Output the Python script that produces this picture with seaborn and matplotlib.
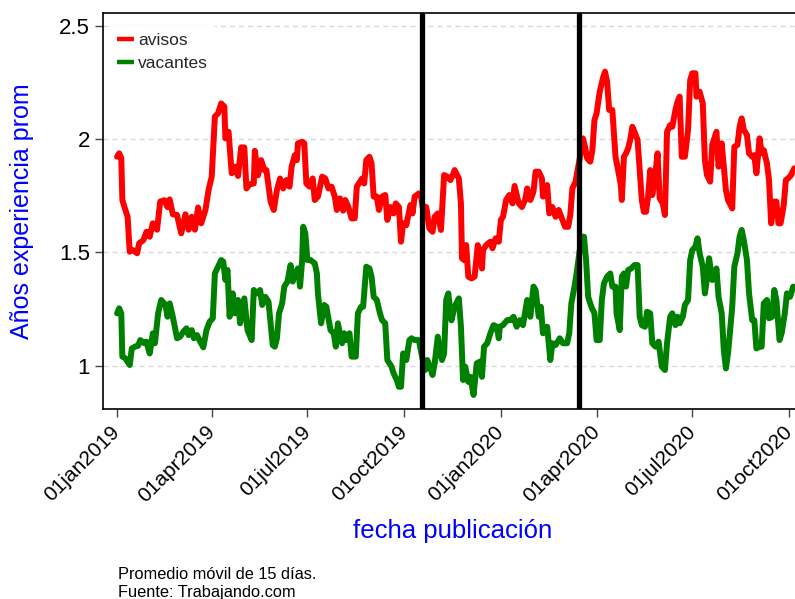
import matplotlib
matplotlib.use("Agg")
import matplotlib.pyplot as plt
import numpy as np
import pandas as pd
import seaborn as sns

# ---------------- data ----------------
base_date = "2019-01-01"

avisos_day = [0, 2, 4, 5, 7, 10, 12, 15, 19, 21, 25, 28, 31, 34, 38, 41, 45, 48, 50, 53,
              57, 61, 65, 68, 71, 74, 77, 80, 84, 87, 90, 93, 96, 99, 102, 103, 106, 109, 112, 115,
              118, 121, 123, 126, 130, 131, 134, 137, 140, 142, 146, 149, 152, 155, 158, 161, 164, 166, 169, 171,
              172, 176, 178, 180, 183, 186, 188, 191, 195, 198, 201, 204, 207, 209, 212, 215, 217, 220, 223, 226,
              228, 231, 233, 235, 237, 240, 242, 244, 247, 249, 252, 255, 257, 260, 263, 265, 268, 270, 272, 275,
              279, 281, 283, 287, 289, 291, 294, 297, 300, 302, 305, 308, 311, 314, 317, 320, 321, 325, 327, 328,
              330, 332, 334, 337, 340, 343, 345, 347, 348, 351, 355, 357, 360, 363, 365, 367, 370, 373, 376, 378,
              382, 385, 388, 390, 393, 396, 398, 401, 404, 405, 409, 411, 414, 417, 420, 423, 426, 429, 431, 433,
              436, 440, 443, 445, 447, 450, 452, 454, 456, 459, 462, 464, 466, 468, 471, 474, 477, 479, 480, 482,
              484, 486, 488, 490, 492, 495, 497, 499, 501, 503, 505, 507, 509, 512, 514, 516, 519, 521, 523, 526,
              528, 531, 533, 535, 537, 540, 543, 545, 547, 550, 551, 554, 557, 559, 561, 564, 566, 570, 572, 575,
              577, 579, 581, 585, 587, 590, 592, 594, 596, 599, 601, 604, 606, 608, 611, 613, 615, 618, 620, 622,
              625, 627, 629, 631, 634, 636, 638, 641, 644]
avisos_val = [1.922, 1.937, 1.915, 1.731, 1.700, 1.657, 1.503, 1.510, 1.496, 1.540, 1.554, 1.591, 1.569, 1.628, 1.600, 1.724, 1.730, 1.700, 1.734, 1.668,
              1.665, 1.584, 1.668, 1.600, 1.657, 1.600, 1.698, 1.628, 1.687, 1.775, 1.834, 2.099, 2.113, 2.157, 2.143, 2.003, 2.032, 1.849, 1.878, 1.837,
              1.963, 1.963, 1.782, 1.800, 1.804, 1.948, 1.840, 1.907, 1.863, 1.863, 1.724, 1.687, 1.775, 1.826, 1.782, 1.819, 1.790, 1.878, 1.929, 1.907,
              1.981, 1.988, 1.981, 1.804, 1.790, 1.826, 1.731, 1.746, 1.834, 1.826, 1.782, 1.790, 1.746, 1.687, 1.738, 1.684, 1.731, 1.700, 1.650, 1.650,
              1.790, 1.812, 1.826, 1.804, 1.907, 1.922, 1.893, 1.746, 1.746, 1.687, 1.746, 1.753, 1.643, 1.700, 1.672, 1.716, 1.700, 1.547, 1.628, 1.620,
              1.709, 1.672, 1.746, 1.760, 1.753, 1.687, 1.700, 1.606, 1.591, 1.657, 1.672, 1.599, 1.841, 1.834, 1.819, 1.849, 1.863, 1.826, 1.716, 1.474,
              1.466, 1.532, 1.393, 1.385, 1.393, 1.532, 1.496, 1.429, 1.510, 1.532, 1.547, 1.518, 1.562, 1.547, 1.643, 1.657, 1.731, 1.753, 1.716, 1.793,
              1.716, 1.700, 1.731, 1.782, 1.731, 1.768, 1.856, 1.856, 1.826, 1.746, 1.797, 1.672, 1.700, 1.657, 1.687, 1.650, 1.613, 1.613, 1.665, 1.782,
              1.812, 1.915, 2.003, 1.966, 1.915, 1.900, 1.951, 2.084, 2.113, 2.209, 2.268, 2.297, 2.253, 2.128, 2.128, 1.922, 1.849, 1.800, 1.731, 1.922,
              1.937, 1.959, 1.996, 2.054, 2.032, 1.996, 1.863, 1.731, 1.679, 1.679, 1.746, 1.863, 1.753, 1.849, 1.937, 1.738, 1.716, 1.665, 2.032, 2.062,
              2.054, 2.128, 2.165, 2.187, 1.922, 1.922, 2.040, 2.260, 2.290, 2.290, 2.187, 2.209, 2.157, 1.907, 1.841, 1.812, 1.974, 2.032, 1.878, 1.981,
              1.878, 1.775, 1.731, 1.694, 1.966, 1.974, 2.054, 2.091, 2.040, 2.018, 1.937, 1.922, 1.929, 1.849, 2.003, 1.937, 1.951, 1.893, 1.819, 1.628,
              1.724, 1.724, 1.628, 1.628, 1.709, 1.819, 1.826, 1.841, 1.871]

vacantes_day = [0, 2, 4, 5, 8, 12, 14, 17, 20, 22, 26, 28, 31, 34, 36, 39, 42, 46, 48, 50,
                53, 57, 60, 63, 66, 68, 71, 73, 76, 79, 82, 85, 88, 91, 93, 96, 99, 101, 103, 105,
                107, 110, 112, 115, 117, 121, 124, 128, 130, 133, 136, 138, 141, 144, 146, 148, 150, 152, 154, 157,
                159, 162, 165, 167, 169, 172, 174, 176, 177, 179, 181, 184, 188, 190, 191, 194, 197, 199, 203, 206,
                208, 210, 214, 216, 218, 221, 223, 227, 229, 232, 234, 237, 240, 242, 244, 247, 250, 252, 255, 257,
                261, 263, 266, 268, 270, 272, 275, 278, 280, 283, 287, 290, 293, 295, 298, 300, 302, 305, 307, 309,
                311, 313, 315, 318, 321, 325, 327, 329, 331, 334, 336, 339, 342, 345, 347, 349, 352, 355, 358, 361,
                363, 364, 367, 371, 374, 377, 380, 383, 386, 390, 393, 396, 398, 401, 403, 405, 409, 412, 414, 417,
                421, 424, 428, 430, 432, 435, 437, 440, 442, 444, 446, 448, 451, 454, 456, 459, 461, 463, 466, 469,
                471, 474, 475, 478, 480, 482, 484, 486, 489, 492, 495, 497, 499, 502, 504, 507, 509, 512, 515, 518,
                521, 523, 526, 528, 531, 533, 535, 538, 540, 543, 545, 547, 550, 552, 554, 557, 559, 561, 563, 566,
                568, 570, 572, 575, 577, 579, 581, 585, 587, 590, 592, 594, 596, 599, 601, 604, 606, 608, 611, 613,
                615, 618, 620, 623, 625, 627, 630, 632, 635, 637, 640, 643]
vacantes_val = [1.231, 1.253, 1.231, 1.040, 1.032, 1.003, 1.076, 1.084, 1.088, 1.113, 1.099, 1.106, 1.054, 1.143, 1.099, 1.231, 1.290, 1.268, 1.216, 1.275,
                1.216, 1.121, 1.128, 1.150, 1.165, 1.135, 1.157, 1.121, 1.135, 1.106, 1.081, 1.157, 1.194, 1.209, 1.407, 1.437, 1.466, 1.459, 1.378, 1.422,
                1.216, 1.319, 1.231, 1.290, 1.187, 1.297, 1.157, 1.113, 1.334, 1.319, 1.334, 1.268, 1.304, 1.282, 1.187, 1.091, 1.084, 1.120, 1.231, 1.275,
                1.349, 1.371, 1.444, 1.371, 1.407, 1.429, 1.349, 1.466, 1.613, 1.584, 1.466, 1.466, 1.451, 1.407, 1.319, 1.187, 1.268, 1.260, 1.157, 1.143,
                1.084, 1.187, 1.099, 1.143, 1.113, 1.143, 1.040, 1.040, 1.231, 1.260, 1.260, 1.437, 1.429, 1.393, 1.304, 1.290, 1.231, 1.201, 1.187, 1.025,
                0.996, 0.966, 0.937, 0.907, 0.907, 1.054, 1.025, 1.113, 1.121, 1.113, 1.113, 1.040, 0.981, 1.025, 0.988, 0.959, 1.010, 1.128, 1.062, 1.025,
                1.054, 1.290, 1.319, 1.200, 1.260, 1.297, 1.172, 0.937, 0.996, 0.929, 0.951, 0.871, 1.010, 1.018, 0.951, 1.084, 1.099, 1.143, 1.179, 1.172,
                1.121, 1.172, 1.179, 1.201, 1.201, 1.216, 1.172, 1.201, 1.179, 1.290, 1.216, 1.349, 1.334, 1.216, 1.260, 1.143, 1.172, 1.025, 1.099, 1.091,
                1.121, 1.099, 1.099, 1.143, 1.275, 1.349, 1.407, 1.510, 1.569, 1.569, 1.466, 1.304, 1.260, 1.231, 1.113, 1.113, 1.290, 1.363, 1.393, 1.407,
                1.349, 1.349, 1.231, 1.157, 1.393, 1.407, 1.349, 1.422, 1.429, 1.444, 1.444, 1.216, 1.179, 1.172, 1.238, 1.231, 1.099, 1.084, 1.106, 0.996,
                0.981, 1.099, 1.216, 1.231, 1.179, 1.216, 1.187, 1.216, 1.268, 1.290, 1.466, 1.510, 1.525, 1.562, 1.496, 1.437, 1.319, 1.385, 1.474, 1.378,
                1.393, 1.429, 1.304, 1.231, 1.069, 0.988, 1.054, 1.260, 1.437, 1.496, 1.569, 1.599, 1.554, 1.466, 1.319, 1.201, 1.201, 1.076, 1.084, 1.084,
                1.275, 1.290, 1.209, 1.216, 1.334, 1.290, 1.113, 1.143, 1.231, 1.319, 1.304, 1.349]

series_names = ["avisos", "vacantes"]
series_colors = ["#ff0000", "#008000"]
event_dates = ["2019-10-18", "2020-03-15"]
xtick_dates = ["2019-01-01", "2019-04-01", "2019-07-01", "2019-10-01",
               "2020-01-01", "2020-04-01", "2020-07-01", "2020-10-01"]
xtick_labels = ["01jan2019", "01apr2019", "01jul2019", "01oct2019",
                "01jan2020", "01apr2020", "01jul2020", "01oct2020"]
ytick_vals = [1, 1.5, 2, 2.5]
ytick_labels = ["1", "1.5", "2", "2.5"]

# ---------------- build frame ----------------
base = pd.Timestamp(base_date)
df = pd.concat([
    pd.DataFrame({"fecha": base + pd.to_timedelta(avisos_day, unit="D"),
                  "valor": avisos_val, "serie": series_names[0]}),
    pd.DataFrame({"fecha": base + pd.to_timedelta(vacantes_day, unit="D"),
                  "valor": vacantes_val, "serie": series_names[1]}),
], ignore_index=True)

# ---------------- style ----------------
sns.set_style("white")
plt.rcParams["font.family"] = ["Liberation Sans", "DejaVu Sans"]

W, H = 795, 599
fig = plt.figure(figsize=(W / 100, H / 100), dpi=100)
ax = fig.add_axes([103 / W, 1 - 409 / H, (W - 103) / W, (409 - 13) / H])

sns.lineplot(data=df, x="fecha", y="valor", hue="serie",
             palette=dict(zip(series_names, series_colors)),
             estimator=None, linewidth=4.3, ax=ax)
for ln in ax.lines:
    ln.set_solid_joinstyle("round")
    ln.set_solid_capstyle("round")

for d in event_dates:
    ax.axvline(pd.Timestamp(d), color="black", linewidth=3.8, zorder=6)

ax.set_xlim(base + pd.Timedelta(days=-13.4), base + pd.Timedelta(days=644.7))
ax.set_ylim(0.809, 2.556)

ax.set_yticks(ytick_vals)
ax.set_yticklabels(ytick_labels)
ax.set_xticks(pd.to_datetime(xtick_dates))
ax.set_xticklabels(xtick_labels, rotation=45, ha="right", va="center",
                   rotation_mode="anchor")

ax.yaxis.grid(True, color="#d9d9d9", linestyle=(0, (3.6, 2.9)), linewidth=1.0)
ax.xaxis.grid(False)
ax.set_axisbelow(True)

for side in ["left", "bottom", "top"]:
    ax.spines[side].set_color("black")
    ax.spines[side].set_linewidth(1.2)
ax.spines["right"].set_visible(False)

ax.tick_params(axis="both", direction="out", length=5.5, width=1.0,
               color="#444444", labelcolor="black")
ax.tick_params(axis="y", labelsize=16, pad=4, left=True)
ax.tick_params(axis="x", labelsize=15, pad=9, bottom=True)

ax.set_xlabel("")
ax.set_ylabel("")

handles, labels = ax.get_legend_handles_labels()
leg = ax.legend(handles, labels, loc="upper left", bbox_to_anchor=(0.0101, 0.967),
                borderaxespad=0, borderpad=0.4, frameon=True, fancybox=False,
                framealpha=1, edgecolor="none", facecolor="white", fontsize=12.5,
                handlelength=1.0, handletextpad=0.2, labelspacing=0.45)
for lh in leg.get_lines():
    lh.set_linewidth(3.2)
    lh.set_solid_capstyle("butt")
leg.set_zorder(10)

fig.text(22 / W, 1 - 211 / H, "Años experiencia prom", color="#0000ff",
         fontsize=18, rotation=90, ha="center", va="center")
fig.text(453 / W, 1 - 531 / H, "fecha publicación", color="#0000ff",
         fontsize=18.5, ha="center", va="center")
fig.text(118 / W, 1 - 579 / H, "Promedio móvil de 15 días.", fontsize=11.8,
         ha="left", va="baseline", color="black")
fig.text(118 / W, 1 - 596.5 / H, "Fuente: Trabajando.com", fontsize=11.8,
         ha="left", va="baseline", color="black")

fig.savefig("out.png", dpi=100, facecolor="white")
